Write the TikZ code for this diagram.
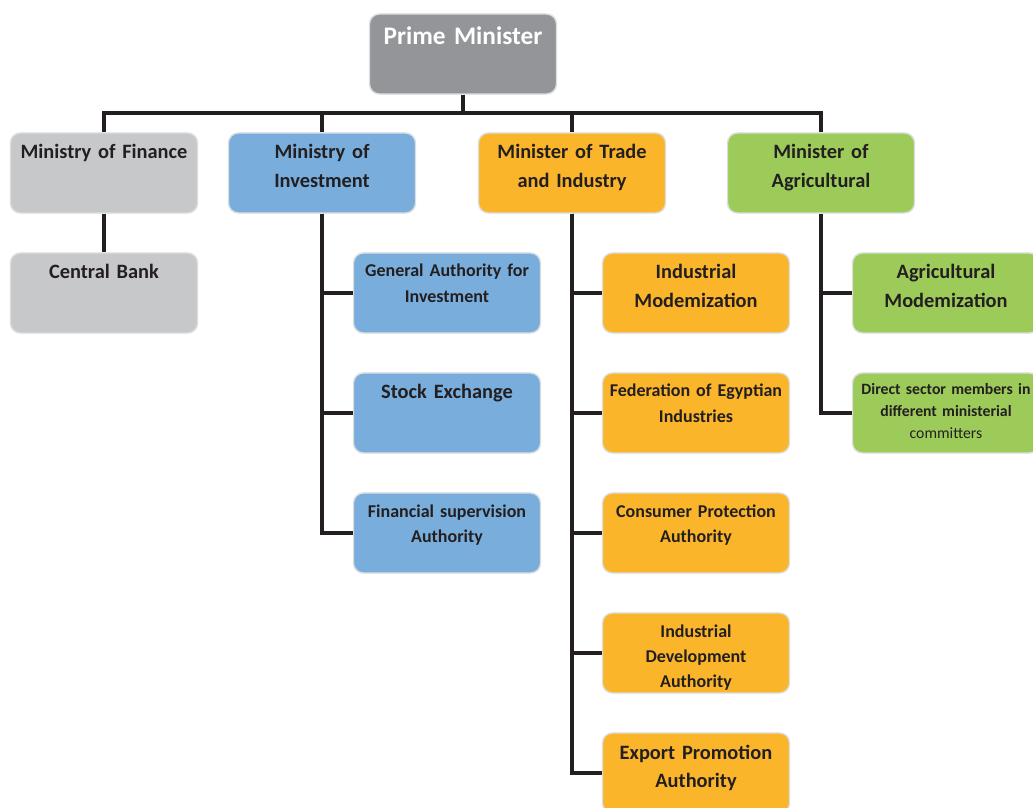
\documentclass[tikz,border=0pt]{standalone}
\usepackage{fontspec}
\setmainfont{Carlito}
\usetikzlibrary{calc}

\definecolor{pmgray}{HTML}{939598}
\definecolor{fingray}{HTML}{C7C8CA}
\definecolor{invblue}{HTML}{79AEDC}
\definecolor{tradeorange}{HTML}{FBB52B}
\definecolor{agrigreen}{HTML}{9CCB5A}
\definecolor{edgegray}{HTML}{DCDDDE}
\definecolor{linedark}{HTML}{231F20}

\tikzset{
  orgbox/.style={draw=edgegray, line width=1pt, rounded corners=0.25cm,
    minimum width=4.675cm, minimum height=2cm, text width=4.6cm, align=center,
    inner sep=0pt, text=linedark},
  pmtext/.style={font=\bfseries\fontsize{18}{22}\selectfont, text height=0.775cm, text depth=1.225cm},
  bigtext/.style={font=\bfseries\fontsize{14.5}{20}\selectfont, text height=0.65cm, text depth=1.35cm},
  midtext/.style={font=\bfseries\fontsize{12.8}{17.8}\selectfont, text height=0.6cm, text depth=1.4cm},
  smalltext/.style={font=\bfseries\fontsize{11.2}{15.5}\selectfont, text height=0.55cm, text depth=1.45cm},
  link/.style={line width=3.4pt, draw=linedark},
}

\begin{document}
\begin{tikzpicture}[x=0.025cm, y=-0.025cm]
    \useasboundingbox (0,0) rectangle (1033,808);

    % Top
    \node[orgbox, fill=pmgray, text=white, pmtext] (pm) at (463,54) {Prime Minister};

    % Ministries
    \node[orgbox, fill=fingray, bigtext] (fin) at (104,173) {Ministry of Finance};
    \node[orgbox, fill=invblue, bigtext] (inv) at (322,173) {Ministry of\\Investment};
    \node[orgbox, fill=tradeorange, bigtext] (trade) at (572,173) {Minister of Trade\\and Industry};
    \node[orgbox, fill=agrigreen, bigtext] (agri) at (821,173) {Minister of\\Agricultural};

    % Finance
    \node[orgbox, fill=fingray, bigtext] (bank) at (104,293) {Central Bank};

    % Investment
    \node[orgbox, fill=invblue, midtext] (gafi) at (447,293) {General Authority for\\Investment};
    \node[orgbox, fill=invblue, bigtext] (stock) at (447,413) {Stock Exchange};
    \node[orgbox, fill=invblue, midtext] (fsa) at (447,533) {Financial supervision\\Authority};

    % Trade and industry
    \node[orgbox, fill=tradeorange, bigtext] (indmod) at (696,293) {Industrial\\Modemization};
    \node[orgbox, fill=tradeorange, midtext] (fei) at (696,413) {Federation of Egyptian\\Industries};
    \node[orgbox, fill=tradeorange, midtext] (cpa) at (696,533) {Consumer Protection\\Authority};
    \node[orgbox, fill=tradeorange, midtext] (ida) at (696,653) {Industrial\\Development\\Authority};
    \node[orgbox, fill=tradeorange, bigtext] (epa) at (696,773) {Export Promotion\\Authority};

    % Agriculture
    \node[orgbox, fill=agrigreen, bigtext] (agrimod) at (946,293) {Agricultural\\Modemization};
    \node[orgbox, fill=agrigreen, smalltext] (sector) at (946,413) {Direct sector members in\\different ministerial\\\mdseries committers};

    % Links
    \coordinate (bar) at (463,113);
    \draw[link] (pm) -- (bar);
    \draw[link] (fin.north) |- (bar) -| (agri.north);
    \draw[link] (inv.north) -- (inv.north |- bar);
    \draw[link] (trade.north) -- (trade.north |- bar);
    \draw[link] (fin) -- (bank);
    \draw[link] (inv.south) |- (gafi.west);
    \draw[link] (inv.south) |- (stock.west);
    \draw[link] (inv.south) |- (fsa.west);
    \draw[link] (trade.south) |- (indmod.west);
    \draw[link] (trade.south) |- (fei.west);
    \draw[link] (trade.south) |- (cpa.west);
    \draw[link] (trade.south) |- (ida.west);
    \draw[link] (trade.south) |- (epa.west);
    \draw[link] (agri.south) |- (agrimod.west);
    \draw[link] (agri.south) |- (sector.west);
\end{tikzpicture}
\end{document}
